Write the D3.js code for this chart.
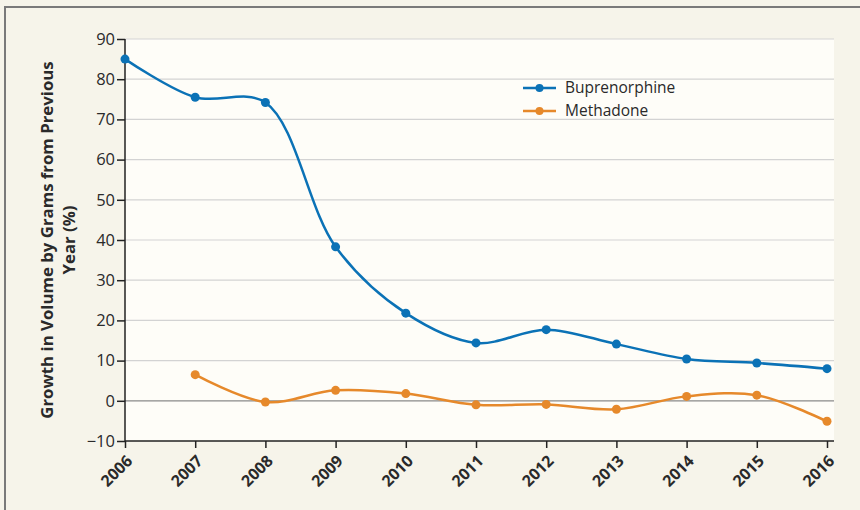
<!DOCTYPE html>
<head>
  <meta charset="utf-8">
  <style>
    body { margin: 0; padding: 0; background: #f6f4ea; font-family: 'Open Sans', sans-serif; }
    .grid line { stroke: #d3d3d3; stroke-width: 1.2; }
    .axis path, .axis line { stroke: #222; stroke-width: 1.5; }
  </style>
</head>
<body>
  <div id="vis"></div>
  <script src="https://cdn.jsdelivr.net/npm/d3@7"></script>
  <script>
    var years = [2006, 2007, 2008, 2009, 2010, 2011, 2012, 2013, 2014, 2015, 2016];
    var buprenorphine = [85.0, 75.5, 74.2, 38.3, 21.8, 14.4, 17.7, 14.1, 10.4, 9.4, 8.0];
    var methadone = [null, 6.5, -0.3, 2.6, 1.8, -1.0, -0.9, -2.1, 1.1, 1.4, -5.1];
    var yTicks = [-10, 0, 10, 20, 30, 40, 50, 60, 70, 80, 90];
    var seriesNames = ['Buprenorphine', 'Methadone'];
    var colors = ['#0b72b6', '#e6892b'];

    var width = 860, height = 510;
    var svg = d3.select('#vis').append('svg')
      .attr('width', width)
      .attr('height', height);

    // frame lines
    svg.append('line').attr('x1', 5).attr('x2', width).attr('y1', 7).attr('y2', 7)
      .attr('stroke', '#7a7a7a').attr('stroke-width', 2);
    svg.append('line').attr('x1', 5).attr('x2', 5).attr('y1', 6).attr('y2', height)
      .attr('stroke', '#7a7a7a').attr('stroke-width', 2);

    var x = d3.scaleLinear().domain([2006, 2016]).range([125, 827]);
    var y = d3.scaleLinear().domain([-10, 90]).range([441, 39]);

    svg.append('rect')
      .attr('x', 125).attr('y', 39)
      .attr('width', 834 - 125).attr('height', 441 - 39)
      .attr('fill', '#fefdf8');

    svg.append('g').attr('class', 'grid')
      .selectAll('line')
      .data(yTicks.filter(function(t) { return t > -10; }))
      .enter().append('line')
        .attr('x1', 125).attr('x2', 834)
        .attr('y1', function(d) { return y(d); })
        .attr('y2', function(d) { return y(d); })
        .style('stroke', function(d) { return d === 0 ? '#8a8a8a' : null; });

    var yAxis = svg.append('g').attr('class', 'axis')
      .attr('transform', 'translate(125,0)')
      .call(d3.axisLeft(y).tickValues(yTicks).tickSize(8).tickPadding(2)
        .tickFormat(function(d) { return d < 0 ? '\u2212' + Math.abs(d) : d; }));
    yAxis.select('.domain').attr('d', 'M0,' + y(90) + 'V' + y(-10));
    yAxis.selectAll('text')
      .style('font-family', "'Open Sans', sans-serif")
      .style('font-size', '16.5px')
      .style('fill', '#2a2a2a');

    var xAxis = svg.append('g').attr('class', 'axis')
      .attr('transform', 'translate(0,441)')
      .call(d3.axisBottom(x).tickValues(years).tickSize(7).tickFormat(d3.format('d')));
    xAxis.select('.domain').attr('d', 'M125,0H834');
    xAxis.selectAll('text')
      .style('font-family', "'Open Sans', sans-serif")
      .style('font-size', '16px')
      .style('font-weight', 'bold')
      .style('fill', '#2a2a2a')
      .attr('text-anchor', 'end')
      .attr('y', 0)
      .attr('dy', '0.35em')
      .attr('transform', 'translate(4,17) rotate(-45)');

    // y axis title
    var title = svg.append('text')
      .attr('transform', 'translate(53,240) rotate(-90)')
      .attr('text-anchor', 'middle')
      .style('font-weight', 'bold')
      .style('font-size', '16.8px')
      .style('fill', '#2a2a2a');
    title.append('tspan').attr('x', 0).attr('dy', 0).text('Growth in Volume by Grams from Previous');
    title.append('tspan').attr('x', 0).attr('dy', 22).text('Year (%)');

    var line = d3.line()
      .defined(function(d) { return d[1] !== null; })
      .x(function(d) { return x(d[0]); })
      .y(function(d) { return y(d[1]); })
      .curve(d3.curveCatmullRom.alpha(0.5));

    [buprenorphine, methadone].forEach(function(vals, i) {
      var pts = years.map(function(yr, j) { return [yr, vals[j]]; });
      svg.append('path')
        .datum(pts)
        .attr('d', line)
        .attr('fill', 'none')
        .attr('stroke', colors[i])
        .attr('stroke-width', 2.5);
      svg.append('g').selectAll('circle')
        .data(pts.filter(function(p) { return p[1] !== null; }))
        .enter().append('circle')
          .attr('cx', function(d) { return x(d[0]); })
          .attr('cy', function(d) { return y(d[1]); })
          .attr('r', 4.5)
          .attr('fill', colors[i]);
    });

    var legend = svg.append('g').selectAll('g')
      .data(seriesNames)
      .enter().append('g')
        .attr('transform', function(d, i) { return 'translate(523,' + (88 + i * 23) + ')'; });
    legend.append('line').attr('x1', 0).attr('x2', 33)
      .attr('stroke', function(d, i) { return colors[i]; }).attr('stroke-width', 2.5);
    legend.append('circle').attr('cx', 16.5).attr('r', 4)
      .attr('fill', function(d, i) { return colors[i]; });
    legend.append('text').attr('x', 42).attr('dy', '0.35em')
      .style('font-size', '15.5px').style('fill', '#2a2a2a')
      .text(function(d) { return d; });
  </script>
</body>
